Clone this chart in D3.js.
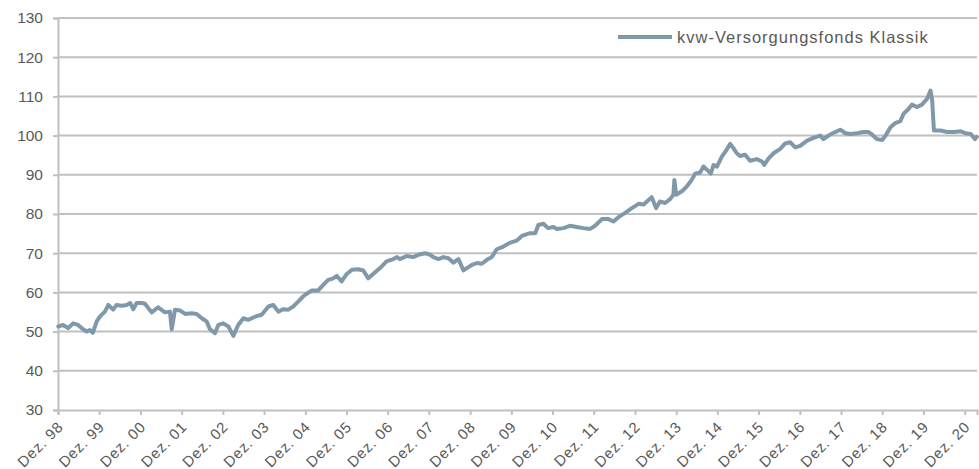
<!DOCTYPE html>
<html><head><meta charset="utf-8">
<script src="https://cdn.jsdelivr.net/npm/d3@7"></script>
<style>
body{margin:0;background:#fff;}
svg{display:block;font-family:"Liberation Sans",Arial,sans-serif;}
</style></head>
<body><svg id="chart" width="979" height="469"></svg>
<script>
const seriesName = "kvw-Versorgungsfonds Klassik";
const dates = ["1998-12-03","1999-01-15","1999-03-01","1999-04-15","1999-05-28","1999-07-12","1999-08-11","1999-09-09","1999-10-06","1999-11-09","1999-12-07","2000-01-21","2000-02-20","2000-04-03","2000-05-03","2000-06-17","2000-08-01","2000-09-01","2000-09-28","2000-10-28","2000-12-12","2001-01-10","2001-03-10","2001-05-07","2001-07-06","2001-08-19","2001-09-04","2001-10-03","2001-11-16","2002-01-01","2002-02-28","2002-04-13","2002-05-28","2002-07-10","2002-08-09","2002-09-22","2002-10-22","2002-12-05","2003-01-19","2003-03-04","2003-04-16","2003-06-01","2003-07-13","2003-09-12","2003-11-10","2004-01-09","2004-02-21","2004-04-06","2004-05-19","2004-07-03","2004-08-16","2004-10-01","2004-11-12","2004-12-01","2005-01-28","2005-03-25","2005-05-09","2005-06-22","2005-08-06","2005-09-05","2005-10-19","2005-12-03","2006-01-18","2006-03-16","2006-04-28","2006-06-12","2006-07-25","2006-09-24","2006-11-21","2007-01-21","2007-02-20","2007-03-19","2007-05-18","2007-07-16","2007-08-30","2007-10-28","2007-12-12","2008-01-10","2008-02-24","2008-04-07","2008-05-22","2008-07-06","2008-08-19","2008-10-03","2008-11-02","2008-12-16","2009-01-31","2009-03-14","2009-04-28","2009-06-10","2009-07-25","2009-09-21","2009-11-20","2010-01-18","2010-03-04","2010-05-16","2010-07-01","2010-07-28","2010-09-12","2010-10-22","2010-12-09","2011-01-09","2011-03-07","2011-05-04","2011-07-03","2011-08-31","2011-10-30","2011-12-13","2012-02-12","2012-04-10","2012-05-24","2012-07-07","2012-09-05","2012-11-03","2013-01-01","2013-02-15","2013-03-16","2013-04-28","2013-06-06","2013-07-10","2013-08-24","2013-10-08","2013-11-06","2013-11-15","2013-12-01","2014-01-21","2014-03-04","2014-04-18","2014-05-18","2014-07-01","2014-07-31","2014-08-30","2014-10-04","2014-10-28","2014-11-27","2015-01-11","2015-02-10","2015-03-25","2015-04-22","2015-05-22","2015-06-20","2015-08-04","2015-09-17","2015-11-16","2015-12-31","2016-01-20","2016-02-28","2016-04-12","2016-06-10","2016-07-24","2016-09-06","2016-10-21","2016-12-04","2017-02-03","2017-04-01","2017-05-31","2017-06-28","2017-08-12","2017-10-10","2017-11-24","2018-01-08","2018-02-22","2018-04-21","2018-06-18","2018-08-02","2018-09-01","2018-10-15","2018-12-01","2018-12-31","2019-02-12","2019-03-27","2019-05-10","2019-06-09","2019-07-22","2019-08-21","2019-10-05","2019-11-18","2020-01-03","2020-02-02","2020-02-17","2020-03-03","2020-04-30","2020-06-30","2020-08-27","2020-10-27","2020-12-09","2021-01-24","2021-03-01","2021-03-19"];
const values = [51.3,51.7,50.9,52.1,51.7,50.6,50.0,50.4,49.7,52.6,53.8,55.1,56.8,55.6,56.8,56.6,56.8,57.3,55.7,57.3,57.3,57.1,54.9,56.2,54.9,55.1,50.6,55.6,55.4,54.5,54.7,54.5,53.4,52.6,50.6,49.6,51.7,52.1,51.3,48.9,51.7,53.4,53.0,53.8,54.3,56.4,56.8,55.1,55.7,55.6,56.4,57.7,59.0,59.4,60.5,60.5,61.9,63.2,63.6,64.2,62.8,64.7,65.8,65.9,65.6,63.6,64.7,66.2,67.9,68.5,69.0,68.5,69.3,69.0,69.6,70.0,69.6,69.0,68.5,69.0,68.7,67.6,68.5,65.6,66.2,67.0,67.5,67.3,68.3,69.0,71.0,71.7,72.7,73.2,74.4,75.1,75.1,77.2,77.5,76.4,76.7,76.2,76.4,77.0,76.7,76.4,76.2,77.0,78.7,78.7,78.1,79.2,80.3,81.5,82.6,82.4,83.2,84.3,81.5,83.2,82.8,83.8,84.9,88.7,84.9,85.8,87.0,88.7,90.3,90.6,92.1,91.3,90.3,92.5,92.1,94.7,95.9,97.9,96.8,95.5,94.8,95.1,93.6,94.0,93.4,92.5,94.2,95.5,96.6,98.0,98.3,97.0,97.4,98.7,99.4,100.0,99.1,100.0,100.9,101.5,100.6,100.4,100.6,100.9,100.9,100.3,99.1,98.9,100.0,102.1,103.2,103.7,105.6,106.8,107.9,107.3,107.9,109.4,111.5,109.0,101.3,101.3,100.9,100.9,101.1,100.6,100.4,99.1,99.7];
const yTicks = [30,40,50,60,70,80,90,100,110,120,130];
const tickYears = [1998,1999,2000,2001,2002,2003,2004,2005,2006,2007,2008,2009,2010,2011,2012,2013,2014,2015,2016,2017,2018,2019,2020];
const tickLabels = tickYears.map(y => "Dez. " + String(y % 100).padStart(2, "0"));

const parse = d3.timeParse("%Y-%m-%d");
const data = dates.map((d, i) => ({date: parse(d), value: values[i]}));

const svg = d3.select("#chart");
const mLeft = 58, mRight = 977, mTop = 18, mBottom = 410;
const x = d3.scaleTime().domain([new Date(1998, 11, 1), new Date(2021, 2, 20)]).range([mLeft, mRight]);
const y = d3.scaleLinear().domain([30, 130]).range([mBottom, mTop]);

const textColor = "#595959", gridColor = "#c0c0c0", lineColor = "#7f99ab";

// gridlines
svg.append("g").selectAll("line").data(yTicks.filter(t => t > 30)).join("line")
  .attr("x1", mLeft).attr("x2", mRight)
  .attr("y1", d => y(d)).attr("y2", d => y(d))
  .attr("stroke", gridColor).attr("stroke-width", 2);

// y axis
const yAxis = svg.append("g").attr("transform", `translate(${mLeft},0)`)
  .call(d3.axisLeft(y).tickValues(yTicks).tickSize(5).tickPadding(10));
yAxis.select(".domain").attr("stroke", gridColor).attr("stroke-width", 2);
yAxis.selectAll(".tick line").attr("stroke", gridColor).attr("stroke-width", 2);
yAxis.selectAll(".tick text").attr("fill", textColor).attr("font-size", 15.5)
  .attr("font-family", "Liberation Sans, Arial, sans-serif");

// x axis
const tickDates = tickYears.map(yr => new Date(yr, 11, 1));
const xAxis = svg.append("g").attr("transform", `translate(0,${mBottom})`)
  .call(d3.axisBottom(x).tickValues(tickDates).tickSize(5).tickFormat((d, i) => tickLabels[i]));
xAxis.select(".domain").attr("stroke", gridColor).attr("stroke-width", 2);
xAxis.selectAll(".tick line").attr("stroke", gridColor).attr("stroke-width", 2);
xAxis.selectAll(".tick text")
  .attr("fill", textColor).attr("font-size", 15)
  .attr("letter-spacing", "0.8px")
  .attr("font-family", "Liberation Sans, Arial, sans-serif")
  .attr("text-anchor", "end")
  .attr("dy", "0.35em")
  .attr("transform", "translate(2,14) rotate(-45)")
  .attr("y", 0).attr("x", 0);

// line
const line = d3.line().x(d => x(d.date)).y(d => y(d.value)).curve(d3.curveLinear);
svg.append("path").datum(data)
  .attr("d", line).attr("fill", "none")
  .attr("stroke", lineColor).attr("stroke-width", 4)
  .attr("stroke-linejoin", "round").attr("stroke-linecap", "round");

// legend
const lg = svg.append("g");
lg.append("line").attr("x1", 618).attr("x2", 672).attr("y1", 37).attr("y2", 37)
  .attr("stroke", lineColor).attr("stroke-width", 4);
lg.append("text").attr("x", 677).attr("y", 37).attr("dy", "0.35em")
  .attr("fill", textColor).attr("font-size", 16.5).attr("letter-spacing", "1px").text(seriesName);
</script></body></html>
